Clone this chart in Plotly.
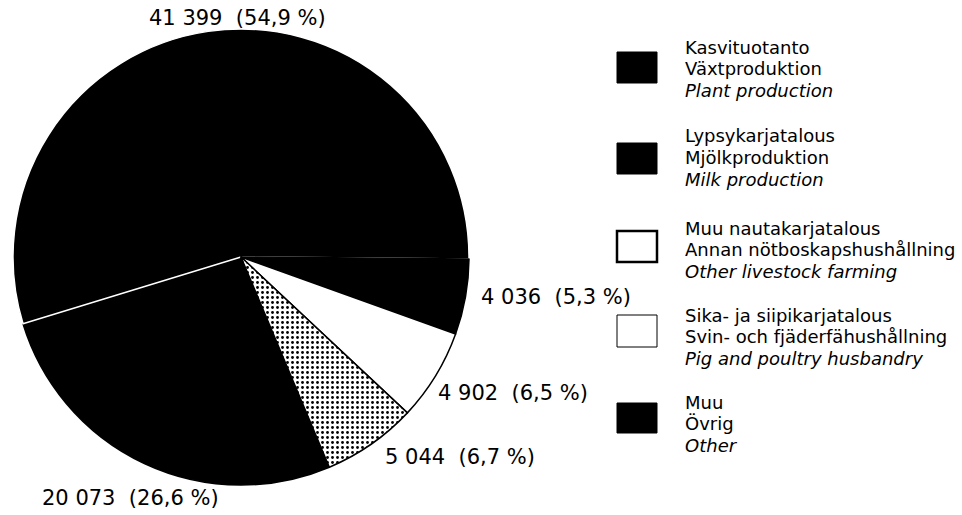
import plotly.graph_objects as go

# data (legend order)
categories_fi = ["Kasvituotanto", "Lypsykarjatalous", "Muu nautakarjatalous",
                 "Sika- ja siipikarjatalous", "Muu"]
categories_sv = ["Växtproduktion", "Mjölkproduktion", "Annan nötboskapshushållning",
                 "Svin- och fjäderfähushållning", "Övrig"]
categories_en = ["Plant production", "Milk production", "Other livestock farming",
                 "Pig and poultry husbandry", "Other"]
values = [41399, 20073, 5044, 4902, 4036]

# clockwise drawing order on the pie (milk first so the white edge on plant stays visible)
pie_order = [1, 0, 4, 3, 2]

W, H = 962, 515
FONT = "DejaVu Sans"


def px(x):
    return x / W


def py(y):
    return 1 - y / H


total = sum(values)


def label(i):
    num = "{:,}".format(values[i]).replace(",", " ")
    pct = "{:.1f}".format(values[i] / total * 100).replace(".", ",")
    return "{}  ({} %)".format(num, pct)


fills = ["black", "black", "white", "white", "black"]
line_cols = ["white", "black", "black", "black", "black"]
patterns = ["", "", ".", "", ""]

fig = go.Figure()
fig.add_trace(go.Pie(
    labels=[categories_en[i] for i in pie_order],
    values=[values[i] for i in pie_order],
    sort=False,
    direction="clockwise",
    rotation=157.2,
    textinfo="none",
    hoverinfo="label+value+percent",
    marker=dict(
        colors=[fills[i] for i in pie_order],
        line=dict(color=[line_cols[i] for i in pie_order], width=1.5),
        pattern=dict(shape=[patterns[i] for i in pie_order], fgcolor="black",
                     size=5, solidity=0.25),
    ),
    domain=dict(x=[px(13), px(469)], y=[py(485), py(29)]),
    showlegend=False,
))

# value labels around the pie
label_pos = {0: (237, 18, "center"), 1: (40, 498, "left"), 2: (383, 457, "left"),
             3: (436, 393, "left"), 4: (479, 297, "left")}
for i, (x, y, anc) in label_pos.items():
    fig.add_annotation(x=px(x), y=py(y), xref="paper", yref="paper", text=label(i),
                       showarrow=False, xanchor=anc, yanchor="middle",
                       font=dict(family=FONT, size=21, color="black"))

# hand-made legend
group_top = [47, 136, 228, 315, 402]
box_y = [(52, 83), (143, 174), (231, 262), (315, 347), (403, 433)]
box_line = [1, 1, 2.5, 1, 1]
for k in range(5):
    y0, y1 = box_y[k]
    fig.add_shape(type="rect", xref="paper", yref="paper",
                  x0=px(617), x1=px(657), y0=py(y1), y1=py(y0),
                  fillcolor=fills[k], line=dict(color="black", width=box_line[k]))
    texts = [categories_fi[k], categories_sv[k], "<i>" + categories_en[k] + "</i>"]
    for j, t in enumerate(texts):
        fig.add_annotation(x=px(683), y=py(group_top[k] + 21.5 * j), xref="paper", yref="paper",
                           text=t, showarrow=False, xanchor="left", yanchor="middle",
                           font=dict(family=FONT, size=18, color="black"))

fig.update_layout(
    width=W, height=H,
    margin=dict(l=0, r=0, t=0, b=0),
    paper_bgcolor="white", plot_bgcolor="white",
    showlegend=False,
)
# drop the default 8px body margin so the figure fills the window exactly
fig.write_html("out.html", config={"displayModeBar": False},
               post_script="document.body.style.margin='0';")
